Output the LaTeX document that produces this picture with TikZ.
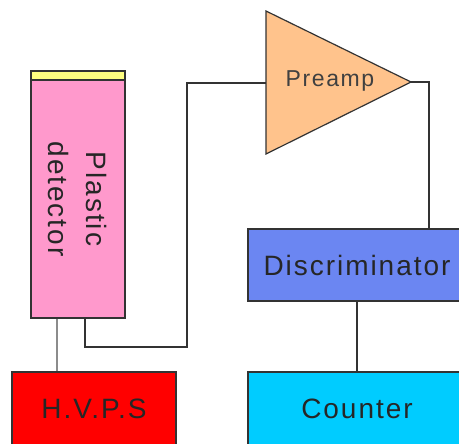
\documentclass[tikz,border=0pt]{standalone}
\usepackage{fontspec}
\setmainfont{Liberation Sans}[LetterSpace=7]
\usetikzlibrary{calc}
\definecolor{detpink}{HTML}{FF99CC}
\definecolor{stripyellow}{HTML}{FFFF80}
\definecolor{preorange}{HTML}{FFC38C}
\definecolor{discblue}{HTML}{6B86F2}
\definecolor{cntcyan}{HTML}{00CCFF}
\definecolor{hvred}{HTML}{FF0000}
\definecolor{wiregrey}{HTML}{333333}
\begin{document}
\begin{tikzpicture}[x=1pt,y=-1pt,
  box/.style={draw=black!80,line width=1.2pt,inner sep=0pt,font=\fontsize{28}{34}\selectfont,text=black!85},
  wire/.style={draw=wiregrey,line width=1.4pt},
  greywire/.style={draw=black!45,line width=1.6pt}]
\useasboundingbox (0,0) rectangle (459,444);
\clip (0,0) rectangle (459,444);
% detector
\node[box,fill=detpink,minimum width=94pt,minimum height=238pt] (det) at (78,199) {};
\node[box,fill=stripyellow,minimum width=94pt,minimum height=9pt] (strip) at (78,75.5) {};
\node[rotate=-90,align=center,font=\fontsize{28}{38}\selectfont,text=black!85] (dettext) at (det.center) {Plastic\\detector};
% preamp
\coordinate (preL) at (266,83);
\coordinate (preOut) at (411,82);
\draw[fill=preorange,draw=black!80,line width=1.2pt] (266,11) -- (preOut) -- (266,154) -- cycle;
\node[font=\fontsize{23}{28}\selectfont,text=black!75] (pre) at (330,81) {Preamp};
% boxes
\node[box,fill=discblue,minimum width=218pt,minimum height=72pt] (disc) at (357,265) {Discriminator};
\node[box,fill=cntcyan,minimum width=218pt,minimum height=73pt] (cnt) at (357,408.5) {Counter};
\node[box,fill=hvred,minimum width=164pt,minimum height=74pt] (hv) at (94,409) {H.V.P.S};
% wires
\coordinate (d1) at (85,347);
\coordinate (d2) at (187,347);
\coordinate (d3) at (187,83);
\draw[wire] (det.south -| d1) -- (d1) -- (d2) -- (d3) -- (preL);
\coordinate (p1) at (429,82);
\draw[wire] (preOut) -- (p1) -- (disc.north -| p1);
\draw[wire] (disc.south) -- (cnt.north);
\coordinate (h1) at (57,330);
\draw[greywire] (det.south -| h1) -- (hv.north -| h1);
\end{tikzpicture}
\end{document}
